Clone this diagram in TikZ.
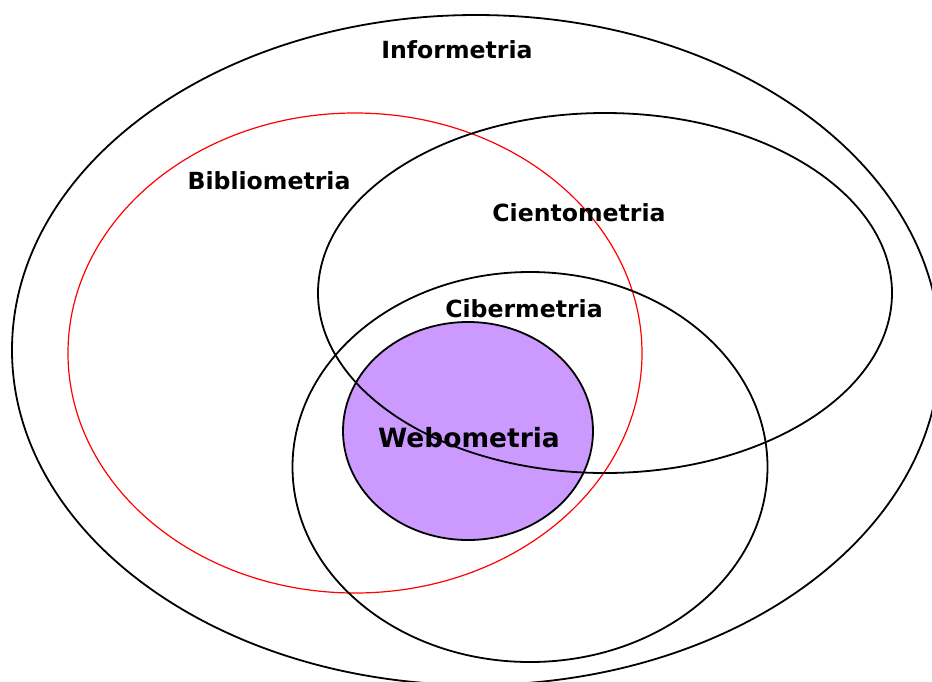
\documentclass[tikz,border=0pt]{standalone}
\usepackage{fontspec}
\setmainfont{DejaVu Sans}
\usetikzlibrary{shapes.geometric}
\definecolor{lilac}{HTML}{CC99FF}
\tikzset{
  area/.style={shape=ellipse, draw=black, line width=1.8pt, inner sep=0pt},
  label/.style={font=\fontsize{23.6}{28}\selectfont\bfseries, inner sep=0pt},
}
\begin{document}
\begin{tikzpicture}[x=1pt, y=-1pt]
  \useasboundingbox (0,0) rectangle (932,681);
  \clip (0,0) rectangle (932,681);
  % innermost filled area first, so the outlines stay visible on top
  \node[area, fill=lilac, minimum width=250pt, minimum height=218pt] (web) at (468,431) {};
  \node[area, minimum width=928pt, minimum height=670pt] (info) at (476,350) {};
  \node[area, draw=red, line width=1.2pt, minimum width=574pt, minimum height=480pt] (biblio) at (355,353) {};
  \node[area, minimum width=574pt, minimum height=360pt] (cient) at (605,293) {};
  \node[area, minimum width=475pt, minimum height=390pt] (ciber) at (530,467) {};
  % labels
  \node[label] (tinfo) at (457,50) {Informetria};
  \node[label] (tbiblio) at (269,181) {Bibliometria};
  \node[label] (tcient) at (579,213) {Cientometria};
  \node[label] (tciber) at (524,309) {Cibermetria};
  \node[label, font=\fontsize{26.5}{31}\selectfont\bfseries] (tweb) at (469,438) {Webometria};
\end{tikzpicture}
\end{document}
